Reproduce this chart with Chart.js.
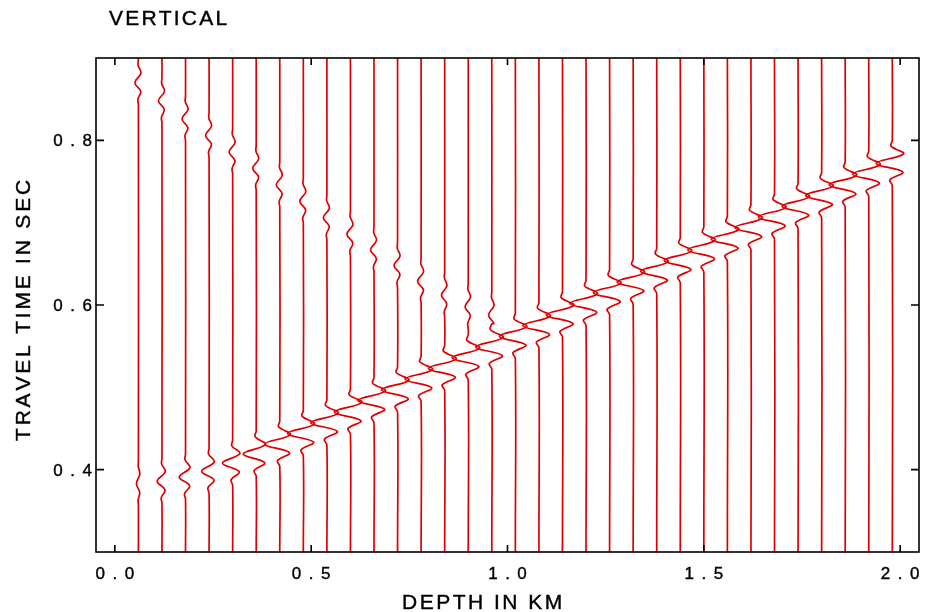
<!DOCTYPE html>
<html>
<head>
<meta charset="utf-8">
<script src="https://cdn.jsdelivr.net/npm/chart.js@4/dist/chart.umd.min.js"></script>
<style>
html, body { margin: 0; padding: 0; background: #fff; }
</style>
</head>
<body>
<canvas id="vsp" width="926" height="612"></canvas>
<script>
// receiver depths in km, one trace each
const depths = [0.06, 0.12, 0.18, 0.24, 0.30, 0.36, 0.42, 0.48, 0.54, 0.60, 0.66,
                0.72, 0.78, 0.84, 0.90, 0.96, 1.02, 1.08, 1.14, 1.20, 1.26, 1.32,
                1.38, 1.44, 1.50, 1.56, 1.62, 1.68, 1.74, 1.80, 1.86, 1.92, 1.98];
// downgoing arrival (trough) time in sec, read per trace
const downTime = [0.383, 0.386, 0.391, 0.398, 0.408, 0.419, 0.431, 0.444, 0.457, 0.470, 0.484,
                  0.497, 0.510, 0.523, 0.536, 0.549, 0.562, 0.575, 0.588, 0.602, 0.615, 0.628,
                  0.641, 0.654, 0.667, 0.680, 0.694, 0.707, 0.720, 0.733, 0.746, 0.759, 0.772];
// downgoing trough size in km of deflection
const downAmp = [0.005, 0.012, 0.016, 0.019, 0.026, 0.033, 0.038, 0.040, 0.041, 0.041, 0.041,
                 0.041, 0.041, 0.041, 0.041, 0.041, 0.041, 0.041, 0.041, 0.041, 0.041, 0.041,
                 0.041, 0.041, 0.041, 0.041, 0.041, 0.041, 0.041, 0.041, 0.041, 0.041, 0.041];
// upgoing (reflected) arrival, only on the shallower traces
const upTime = [0.870, 0.848, 0.826, 0.806, 0.786, 0.766, 0.746, 0.726, 0.706, 0.686, 0.667,
                0.648, 0.629, 0.612, 0.598, 0.588, null, null, null, null, null, null,
                null, null, null, null, null, null, null, null, null, null, null];
const upAmp = [0.009, 0.009, 0.009, 0.009, 0.009, 0.009, 0.009, 0.009, 0.009, 0.009, 0.009,
               0.009, 0.009, 0.008, 0.008, 0.008, null, null, null, null, null, null,
               null, null, null, null, null, null, null, null, null, null, null];
// wavelet shape: time offset from trough (sec) and relative swing
const waveT = [-0.027, -0.020, -0.0105, 0, 0.0115, 0.021, 0.028];
const waveA = [0, -0.15, 0.65, -1, 0.7, -0.08, 0];

const xTicks = [0, 0.5, 1, 1.5, 2];
const yTicks = [0.4, 0.6, 0.8];
const tMin = 0.3, tMax = 0.9;

function tracePoints(i) {
    const events = [];
    if (downTime[i] != null) events.push([downTime[i], downAmp[i]]);
    if (upTime[i] != null) events.push([upTime[i], upAmp[i]]);
    events.sort((a, b) => a[0] - b[0]);
    const pts = [{ x: depths[i], y: tMin }];
    let last = tMin;
    events.forEach(([t0, a]) => {
        waveT.forEach((dt, k) => {
            const t = t0 + dt;
            if (t <= last) return;
            pts.push({ x: depths[i] + a * waveA[k], y: t });
            last = t;
        });
    });
    pts.push({ x: depths[i], y: tMax });
    return pts;
}

const datasets = depths.map((d, i) => ({
    data: tracePoints(i),
    showLine: true,
    borderColor: 'rgb(222,0,0)',
    borderWidth: 1.7,
    pointRadius: 0,
    tension: 0.4,
    fill: false
}));

// text with wide letter spacing, like the plotter font
function spaced(ctx, text, x, y, gap, align) {
    const chars = text.split('');
    const widths = chars.map(c => ctx.measureText(c).width);
    const total = widths.reduce((s, w) => s + w, 0) + gap * (chars.length - 1);
    let cx = x;
    if (align === 'center') cx = x - total / 2;
    if (align === 'right') cx = x - total;
    ctx.textAlign = 'left';
    chars.forEach((c, k) => {
        ctx.fillText(c, cx, y);
        ctx.strokeText(c, cx, y);
        cx += widths[k] + gap;
    });
}

const frame = {
    id: 'frame',
    afterDraw(chart) {
        const { ctx, chartArea: a, scales: { x, y } } = chart;
        ctx.save();
        ctx.strokeStyle = '#000';
        ctx.lineWidth = 1.6;
        ctx.strokeRect(a.left, a.top, a.right - a.left, a.bottom - a.top);
        ctx.beginPath();
        xTicks.forEach(v => {
            const px = x.getPixelForValue(v);
            ctx.moveTo(px, a.bottom); ctx.lineTo(px, a.bottom - 7);
            ctx.moveTo(px, a.top); ctx.lineTo(px, a.top + 7);
        });
        yTicks.forEach(v => {
            const py = y.getPixelForValue(v);
            ctx.moveTo(a.left, py); ctx.lineTo(a.left + 8, py);
            ctx.moveTo(a.right, py); ctx.lineTo(a.right - 8, py);
        });
        ctx.stroke();

        // a hairline stroke thickens the glyphs a little, as in the original
        ctx.fillStyle = '#000';
        ctx.lineWidth = 0.4;
        ctx.textBaseline = 'alphabetic';
        ctx.font = '17px "Liberation Sans", Arial, sans-serif';
        xTicks.forEach(v => spaced(ctx, v.toFixed(1), x.getPixelForValue(v), 579, 7.5, 'center'));
        yTicks.forEach(v => spaced(ctx, v.toFixed(1), a.left - 4, y.getPixelForValue(v) + 6, 7.5, 'right'));

        ctx.font = '21px "Liberation Sans", Arial, sans-serif';
        spaced(ctx, 'VERTICAL', 109, 25, 2.2, 'left');
        spaced(ctx, 'DEPTH IN KM', 402, 609, 2.5, 'left');
        ctx.translate(30, 441);
        ctx.rotate(-Math.PI / 2);
        spaced(ctx, 'TRAVEL TIME IN SEC', 0, 0, 2.8, 'left');
        ctx.restore();
    }
};

const chart = new Chart(document.getElementById('vsp'), {
    type: 'scatter',
    data: { datasets: datasets },
    options: {
        responsive: false,
        animation: false,
        devicePixelRatio: 1,
        layout: { padding: { left: 96, right: 7, top: 58, bottom: 60 } },
        scales: {
            x: { type: 'linear', min: -0.048, max: 2.048, display: false },
            y: { type: 'linear', min: tMin, max: tMax, display: false }
        },
        plugins: { legend: { display: false }, tooltip: { enabled: false } }
    },
    plugins: [frame]
});
</script>
</body>
</html>
